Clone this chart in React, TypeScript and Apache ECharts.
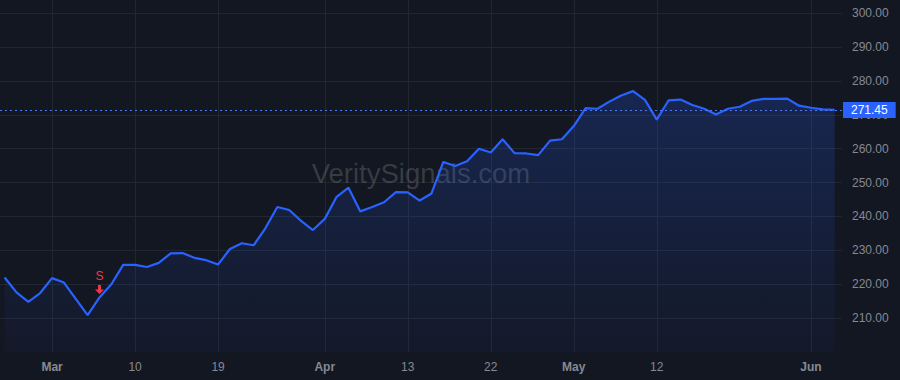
import React, { useEffect, useRef } from "react";
import * as echarts from "echarts";

// Daily closes, Feb 23 – Jun 3 (trading days)
const prices: number[] = [
  222.0, 217.6, 214.8, 217.4, 221.8, 220.5, 215.7, 210.9, 216.1, 220.0,
  225.7, 225.7, 225.1, 226.3, 229.1, 229.2, 227.8, 227.1, 225.8, 230.4,
  232.1, 231.5, 236.6, 242.8, 241.9, 238.7, 236.0, 239.3, 245.8, 248.5,
  241.5, 242.8, 244.2, 247.2, 247.1, 244.7, 246.8, 256.1, 254.9, 256.3,
  260.0, 258.9, 262.8, 258.7, 258.6, 258.1, 262.4, 262.8, 266.7, 272.0,
  271.8, 273.9, 275.7, 277.0, 274.4, 268.6, 274.3, 274.5, 272.9, 271.8,
  270.1, 271.8, 272.4, 274.1, 274.7, 274.7, 274.8, 272.7, 272.1, 271.6,
  271.45,
];

// x-axis ticks (bar index -> label)
const tickIndices: number[] = [4, 11, 18, 27, 34, 41, 48, 55, 68];
const tickLabels: string[] = ["Mar", "10", "19", "Apr", "13", "22", "May", "12", "Jun"];
const monthLabels: string[] = ["Mar", "Apr", "May", "Jun"];

// y-axis ticks
const yTicks: number[] = [210, 220, 230, 240, 250, 260, 270, 280, 290, 300];

// signal marker
const signalIndex = 8;
const signalText = "S";

const lastPrice = prices[prices.length - 1];

export default function App() {
  const ref = useRef<HTMLDivElement>(null);

  useEffect(() => {
    if (!ref.current) return;
    const chart = echarts.init(ref.current, undefined, { renderer: "svg" });
    const font = "'Liberation Sans', Arial, sans-serif";
    const seriesData = prices.map((v, i) => [i, v]);

    chart.setOption({
      animation: false,
      backgroundColor: "#131722",
      grid: { left: 0, right: 58, top: 0, bottom: 28 },
      graphic: [
        {
          type: "text",
          z: 1,
          x: 421,
          y: 173,
          silent: true,
          style: {
            text: "VeritySignals.com",
            font: `27.5px ${font}`,
            fill: "rgba(255,255,255,0.16)",
            align: "center",
            verticalAlign: "middle",
            textAlign: "center",
            textVerticalAlign: "middle",
          },
        },
      ],
      xAxis: {
        type: "value",
        min: -0.39,
        max: 70.62,
        axisLine: { show: false },
        axisTick: { show: false, customValues: tickIndices },
        splitLine: { show: true, lineStyle: { color: "#222631", width: 1 } },
        axisLabel: {
          customValues: tickIndices,
          margin: 9,
          color: "#868993",
          fontSize: 12,
          fontFamily: font,
          formatter: (v: number) => {
            const k = tickIndices.indexOf(Math.round(v));
            if (k < 0) return "";
            const t = tickLabels[k];
            return monthLabels.includes(t) ? `{b|${t}}` : t;
          },
          rich: {
            b: { fontWeight: "bold", color: "#868993", fontSize: 12, fontFamily: font },
          },
        },
      },
      yAxis: {
        type: "value",
        position: "right",
        min: 200,
        max: 303.9,
        axisLine: { show: false },
        axisTick: { show: false, customValues: yTicks },
        splitLine: { show: true, lineStyle: { color: "#222631", width: 1 } },
        axisLabel: {
          customValues: yTicks,
          margin: 10,
          color: "#868993",
          fontSize: 12,
          fontFamily: font,
          formatter: (v: number) => v.toFixed(2),
        },
      },
      series: [
        {
          type: "line",
          data: seriesData,
          symbol: "none",
          lineStyle: { color: "#2962ff", width: 2.2 },
          itemStyle: { color: "#2962ff" },
          areaStyle: {
            origin: "start",
            color: new echarts.graphic.LinearGradient(0, 0, 0, 1, [
              { offset: 0, color: "rgba(41,98,255,0.30)" },
              { offset: 1, color: "rgba(41,98,255,0.04)" },
            ]),
          },
          z: 3,
          markLine: {
            silent: true,
            symbol: "none",
            lineStyle: { color: "#4a78f5", type: [2, 3], width: 1 },
            label: {
              show: true,
              position: "end",
              distance: 1,
              formatter: () => lastPrice.toFixed(2),
              color: "#ffffff",
              fontSize: 12,
              fontFamily: font,
              backgroundColor: "#2962ff",
              padding: [2, 8, 2, 8],
              lineHeight: 12,
            },
            data: [{ yAxis: lastPrice }],
          },
          markPoint: {
            silent: true,
            symbol: "path://M3,0 L6,0 L6,5 L9,5 L4.5,10 L0,5 L3,5 Z",
            symbolSize: [9, 9],
            symbolOffset: [0, -8],
            itemStyle: { color: "#f23645" },
            label: {
              show: true,
              position: "top",
              distance: 3,
              formatter: () => signalText,
              color: "#f23645",
              fontSize: 12,
              fontFamily: font,
            },
            data: [{ coord: [signalIndex, prices[signalIndex]] }],
          },
        },
      ],
    });

    return () => chart.dispose();
  }, []);

  return (
    <div
      ref={ref}
      style={{ position: "fixed", left: 0, top: 0, width: 900, height: 380, background: "#131722" }}
    />
  );
}
